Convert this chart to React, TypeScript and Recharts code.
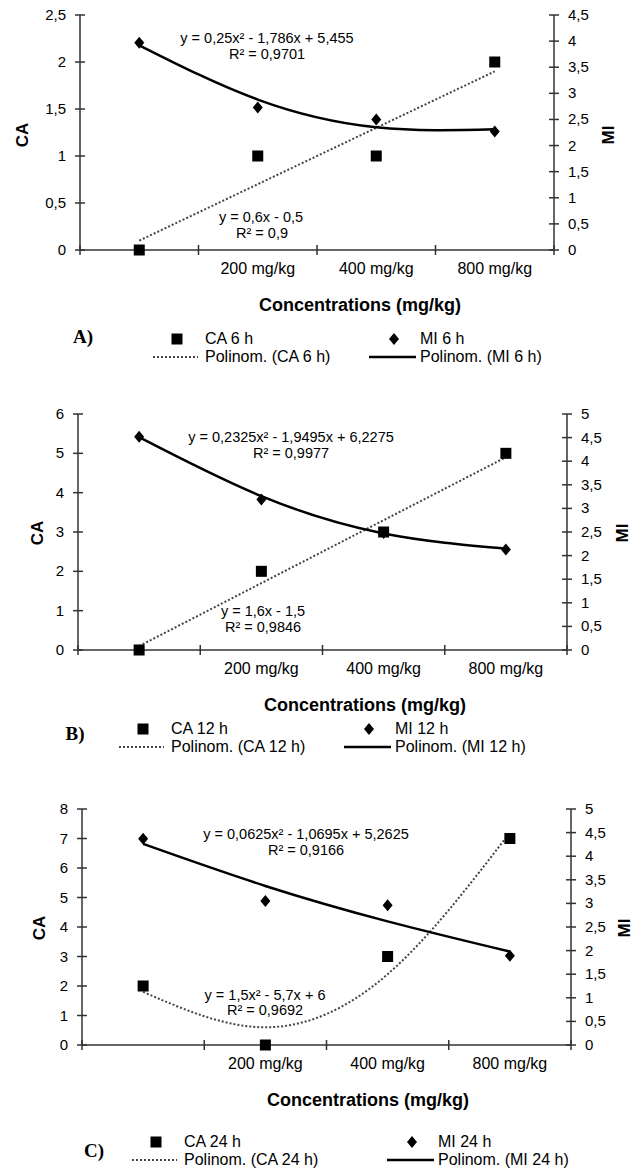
import React from 'react';
import { ComposedChart, Line, XAxis, YAxis } from 'recharts';

const doses = ['', '200 mg/kg', '400 mg/kg', '800 mg/kg'];

// A) 6 h
const ca6 = [0, 1, 1, 2];
const mi6 = [3.97, 2.73, 2.5, 2.27];
const caFit6 = [0.1, 0.7, 1.3, 1.9];
const miFit6 = [3.92, 2.88, 2.35, 2.31];
const caTicks6 = [0, 0.5, 1, 1.5, 2, 2.5];
const miTicks6 = [0, 0.5, 1, 1.5, 2, 2.5, 3, 3.5, 4, 4.5];

// B) 12 h
const ca12 = [0, 2, 3, 5];
const mi12 = [4.52, 3.19, 2.48, 2.13];
const caFit12 = [0.1, 1.7, 3.3, 4.9];
const miFit12 = [4.51, 3.26, 2.47, 2.15];
const caTicks12 = [0, 1, 2, 3, 4, 5, 6];
const miTicks12 = [0, 0.5, 1, 1.5, 2, 2.5, 3, 3.5, 4, 4.5, 5];

// C) 24 h
const ca24 = [2, 0, 3, 7];
const mi24 = [4.37, 3.05, 2.96, 1.89];
const caFit24 = [1.8, 0.6, 2.4, 7.2];
const miFit24 = [4.26, 3.37, 2.62, 1.98];
const caTicks24 = [0, 1, 2, 3, 4, 5, 6, 7, 8];
const miTicks24 = [0, 0.5, 1, 1.5, 2, 2.5, 3, 3.5, 4, 4.5, 5];

const xTicks = [0, 0.5, 1, 1.5, 2, 2.5, 3, 3.5, 4];

const FONT = '"Liberation Sans", Arial, sans-serif';
const SERIF = '"Liberation Serif", "Times New Roman", serif';
const AXIS = '#333';

const fmt = (v: number) => String(v).replace('.', ',');

const LeftTick = (props: any) => {
  const { x, y, payload } = props;
  return (
    <g>
      <line x1={x - 5} x2={x + 5} y1={y} y2={y} stroke={AXIS} strokeWidth={1.5} />
      <text x={x - 14} y={y + 5} textAnchor="end" fontSize={15} fill="#000" fontFamily={FONT}>
        {fmt(payload.value)}
      </text>
    </g>
  );
};

const RightTick = (props: any) => {
  const { x, y, payload } = props;
  return (
    <g>
      <line x1={x - 5} x2={x + 5} y1={y} y2={y} stroke={AXIS} strokeWidth={1.5} />
      <text x={x + 14} y={y + 5} textAnchor="start" fontSize={15} fill="#000" fontFamily={FONT}>
        {fmt(payload.value)}
      </text>
    </g>
  );
};

const XTick = (props: any) => {
  const { x, y, payload } = props;
  const v = payload.value;
  if (Number.isInteger(v)) {
    return <line x1={x} x2={x} y1={y - 5} y2={y + 5} stroke={AXIS} strokeWidth={1.5} />;
  }
  return (
    <text x={x} y={y + 23.5} textAnchor="middle" fontSize={16} fill="#000" fontFamily={FONT}>
      {doses[Math.floor(v)]}
    </text>
  );
};

const SquareDot = (props: any) => {
  const { cx, cy } = props;
  if (cx == null || cy == null) return <g />;
  return <rect x={cx - 5.5} y={cy - 5.5} width={11} height={11} fill="#000" />;
};

const DiamondDot = (props: any) => {
  const { cx, cy } = props;
  if (cx == null || cy == null) return <g />;
  return <polygon points={`${cx},${cy - 6} ${cx + 5},${cy} ${cx},${cy + 6} ${cx - 5},${cy}`} fill="#000" />;
};

type Plot = { left: number; right: number; top: number; bottom: number };

const Panel = ({ top, plot, ca, mi, caFit, miFit, caTicks, miTicks }: {
  top: number; plot: Plot; ca: number[]; mi: number[]; caFit: number[]; miFit: number[];
  caTicks: number[]; miTicks: number[];
}) => {
  const data = doses.map((d, i) => ({ pos: i + 0.5, ca: ca[i], mi: mi[i], caFit: caFit[i], miFit: miFit[i] }));
  const height = plot.bottom - top + 30;
  return (
    <div style={{ position: 'absolute', left: 0, top, width: 641, height }}>
      <ComposedChart
        width={641}
        height={height}
        data={data}
        margin={{ top: plot.top - top, left: plot.left - 60, right: 641 - plot.right - 60, bottom: 0 }}
      >
        <XAxis
          dataKey="pos"
          type="number"
          domain={[0, 4]}
          ticks={xTicks}
          interval={0}
          height={30}
          axisLine={{ stroke: AXIS, strokeWidth: 1.5 }}
          tickLine={false}
          tickSize={0}
          tickMargin={0}
          tick={<XTick />}
        />
        <YAxis
          yAxisId="ca"
          orientation="left"
          type="number"
          width={60}
          domain={[0, caTicks[caTicks.length - 1]]}
          ticks={caTicks}
          interval={0}
          axisLine={{ stroke: AXIS, strokeWidth: 1.5 }}
          tickLine={false}
          tickSize={0}
          tickMargin={0}
          tick={<LeftTick />}
        />
        <YAxis
          yAxisId="mi"
          orientation="right"
          type="number"
          width={60}
          domain={[0, miTicks[miTicks.length - 1]]}
          ticks={miTicks}
          interval={0}
          axisLine={{ stroke: AXIS, strokeWidth: 1.5 }}
          tickLine={false}
          tickSize={0}
          tickMargin={0}
          tick={<RightTick />}
        />
        <Line yAxisId="ca" dataKey="caFit" type="natural" stroke="#444" strokeWidth={2} strokeDasharray="2 2" dot={false} activeDot={false} isAnimationActive={false} />
        <Line yAxisId="mi" dataKey="miFit" type="natural" stroke="#000" strokeWidth={2.5} dot={false} activeDot={false} isAnimationActive={false} />
        <Line yAxisId="ca" dataKey="ca" stroke="none" dot={<SquareDot />} activeDot={false} isAnimationActive={false} />
        <Line yAxisId="mi" dataKey="mi" stroke="none" dot={<DiamondDot />} activeDot={false} isAnimationActive={false} />
      </ComposedChart>
    </div>
  );
};

const Txt = ({ x, y, children, anchor = 'middle', size = 14, bold = false, rotate = 0, family = FONT }: any) => (
  <div
    style={{
      position: 'absolute',
      left: x,
      top: y,
      transform: `translate(${anchor === 'middle' ? '-50%' : '0'}, -50%) rotate(${rotate}deg)`,
      whiteSpace: 'nowrap',
      fontFamily: family,
      fontSize: size,
      fontWeight: bold ? 'bold' : 'normal',
      color: '#000',
      lineHeight: 1,
    }}
  >
    {children}
  </div>
);

const Legend = ({ y, sq, diam, caLabel, miLabel }: { y: number; sq: number; diam: number; caLabel: string; miLabel: string }) => (
  <>
    <svg style={{ position: 'absolute', left: 0, top: y - 12, overflow: 'visible' }} width={641} height={40}>
      <rect x={sq - 5.5} y={12 - 5.5} width={11} height={11} fill="#000" />
      <polygon points={`${diam},${12 - 6} ${diam + 5},12 ${diam},${12 + 6} ${diam - 5},12`} fill="#000" />
      <line x1={sq - 24} x2={sq + 21} y1={30} y2={30} stroke="#444" strokeWidth={2} strokeDasharray="2 2" />
      <line x1={diam - 25} x2={diam + 22} y1={30} y2={30} stroke="#000" strokeWidth={2.5} />
    </svg>
    <Txt x={sq + 28} y={y} anchor="start" size={16}>{caLabel}</Txt>
    <Txt x={diam + 26} y={y} anchor="start" size={16}>{miLabel}</Txt>
    <Txt x={sq + 28} y={y + 18} anchor="start" size={16}>{`Polinom. (${caLabel})`}</Txt>
    <Txt x={diam + 26} y={y + 18} anchor="start" size={16}>{`Polinom. (${miLabel})`}</Txt>
  </>
);

export default function App() {
  return (
    <div style={{ position: 'absolute', left: 0, top: 0, width: 641, height: 1172, background: '#fff', overflow: 'hidden' }}>
      {/* A) 6 h */}
      <Panel top={0} plot={{ left: 80, right: 554, top: 15, bottom: 250 }} ca={ca6} mi={mi6} caFit={caFit6} miFit={miFit6} caTicks={caTicks6} miTicks={miTicks6} />
      <Txt x={22} y={135} size={17} bold rotate={-90}>CA</Txt>
      <Txt x={608} y={135} size={17} bold rotate={-90}>MI</Txt>
      <Txt x={267} y={38} size={14.5}>y = 0,25x² - 1,786x + 5,455</Txt>
      <Txt x={267} y={54} size={14.5}>R² = 0,9701</Txt>
      <Txt x={261} y={217} size={14.5}>y = 0,6x - 0,5</Txt>
      <Txt x={262} y={233} size={14.5}>R² = 0,9</Txt>
      <Txt x={360} y={305} size={18} bold>Concentrations (mg/kg)</Txt>
      <Txt x={83} y={336} size={19} bold family={SERIF}>A)</Txt>
      <Legend y={339} sq={177} diam={394} caLabel="CA 6 h" miLabel="MI 6 h" />

      {/* B) 12 h */}
      <Panel top={380} plot={{ left: 78, right: 567, top: 414, bottom: 650 }} ca={ca12} mi={mi12} caFit={caFit12} miFit={miFit12} caTicks={caTicks12} miTicks={miTicks12} />
      <Txt x={37} y={533} size={17} bold rotate={-90}>CA</Txt>
      <Txt x={622} y={533} size={17} bold rotate={-90}>MI</Txt>
      <Txt x={291} y={437} size={14.5}>y = 0,2325x² - 1,9495x + 6,2275</Txt>
      <Txt x={291} y={453} size={14.5}>R² = 0,9977</Txt>
      <Txt x={263} y={611} size={14.5}>y = 1,6x - 1,5</Txt>
      <Txt x={263} y={627} size={14.5}>R² = 0,9846</Txt>
      <Txt x={365} y={705} size={18} bold>Concentrations (mg/kg)</Txt>
      <Txt x={75} y={733} size={19} bold family={SERIF}>B)</Txt>
      <Legend y={729} sq={143} diam={369} caLabel="CA 12 h" miLabel="MI 12 h" />

      {/* C) 24 h */}
      <Panel top={780} plot={{ left: 82, right: 571, top: 809, bottom: 1045 }} ca={ca24} mi={mi24} caFit={caFit24} miFit={miFit24} caTicks={caTicks24} miTicks={miTicks24} />
      <Txt x={39} y={928} size={17} bold rotate={-90}>CA</Txt>
      <Txt x={624} y={928} size={17} bold rotate={-90}>MI</Txt>
      <Txt x={306} y={834} size={14.5}>y = 0,0625x² - 1,0695x + 5,2625</Txt>
      <Txt x={306} y={850} size={14.5}>R² = 0,9166</Txt>
      <Txt x={265} y={995} size={14.5}>y = 1,5x² - 5,7x + 6</Txt>
      <Txt x={265} y={1010} size={14.5}>R² = 0,9692</Txt>
      <Txt x={368} y={1100} size={18} bold>Concentrations (mg/kg)</Txt>
      <Txt x={94} y={1150} size={19} bold family={SERIF}>C)</Txt>
      <Legend y={1142} sq={156} diam={412} caLabel="CA 24 h" miLabel="MI 24 h" />
    </div>
  );
}
